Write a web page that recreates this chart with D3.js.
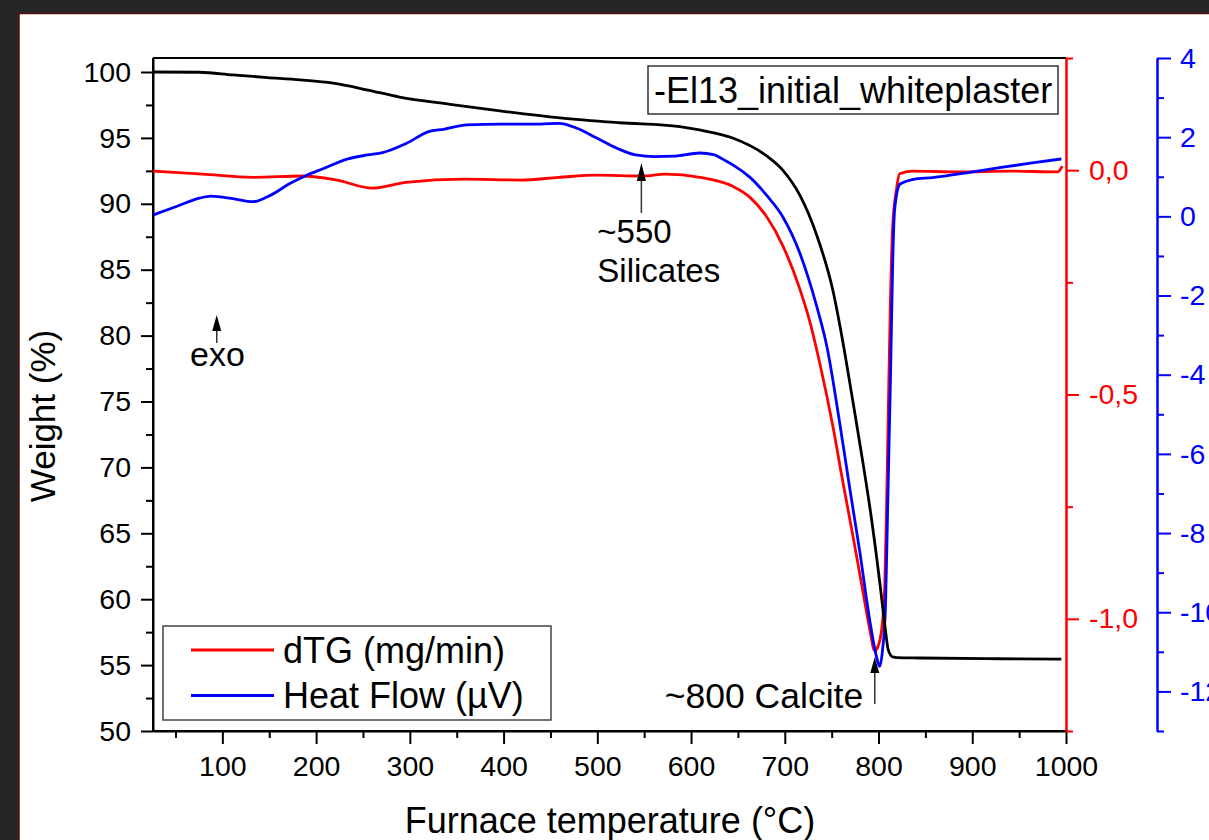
<!DOCTYPE html>
<html><head><meta charset="utf-8">
<script src="https://cdn.jsdelivr.net/npm/d3@7"></script>
<style>
html,body{margin:0;padding:0;background:#252525;}
svg{display:block;}
</style></head><body>
<svg id="chart" width="1209" height="840"></svg>
<script>
// ---------------- data ----------------
const weightT = [26, 76, 111, 148, 183, 218, 254, 289, 343, 396, 460, 524, 588, 609, 644.5, 680.7, 697.8, 715.9, 734, 751.4, 761, 772.4, 783, 792.3, 801.8, 807.2, 810.4, 815, 820, 844, 929, 995];
const weightV = [100.0, 99.98, 99.78, 99.58, 99.4, 99.15, 98.65, 98.1, 97.55, 97.05, 96.52, 96.15, 95.85, 95.6, 94.99, 93.63, 92.56, 90.67, 87.63, 83.4, 79.9, 75.11, 70.52, 66.2, 61.0, 57.74, 56.15, 55.62, 55.57, 55.54, 55.48, 55.45];

const dtgT = [26, 79, 133, 186, 222, 260, 296, 358, 418, 459, 499, 548, 573, 609.3, 644.5, 662.6, 680.7, 697.8, 715.9, 726.5, 737.5, 751.4, 761, 772.4, 783, 790.6, 795.9, 799.1, 803.4, 806.6, 808.5, 810.5, 812.5, 815, 819, 822.5, 836, 886, 940, 991, 996];
const dtgV = [-0.002, -0.009, -0.016, -0.013, -0.022, -0.040, -0.027, -0.020, -0.022, -0.016, -0.011, -0.013, -0.009, -0.016, -0.036, -0.060, -0.104, -0.168, -0.264, -0.336, -0.432, -0.572, -0.684, -0.812, -0.935, -1.023, -1.071, -1.063, -1.023, -0.93, -0.76, -0.53, -0.31, -0.13, -0.045, -0.008, -0.002, -0.004, -0.002, -0.004, 0.009];

const heatT = [26.6, 51, 75.6, 87.8, 112.4, 132.6, 148.6, 173, 190, 206, 235, 255, 271, 296, 320, 336, 361, 398, 439, 459, 479, 500, 521, 541, 561, 581.6, 609.3, 624, 637.8, 644.5, 662.6, 680.7, 697.8, 715.9, 734, 745, 758.8, 769.5, 780.2, 790.6, 798.1, 801.2, 804.2, 807.5, 809.6, 812.9, 815.1, 817.2, 822.5, 825.7, 836, 857.7, 894, 929, 964, 995];
const heatV = [0.04, 0.25, 0.46, 0.51, 0.44, 0.37, 0.50, 0.84, 1.04, 1.19, 1.46, 1.55, 1.61, 1.84, 2.14, 2.20, 2.31, 2.33, 2.33, 2.35, 2.22, 1.97, 1.72, 1.55, 1.51, 1.52, 1.6, 1.56, 1.39, 1.30, 0.99, 0.53, -0.01, -0.92, -2.27, -3.3, -5.25, -6.9, -8.5, -10.2, -11.15, -11.37, -10.97, -9.79, -7.53, -3.90, -1.19, 0.17, 0.805, 0.85, 0.93, 0.98, 1.10, 1.23, 1.35, 1.45];

const xTicks = [100, 200, 300, 400, 500, 600, 700, 800, 900, 1000];
const xMinor = [50, 150, 250, 350, 450, 550, 650, 750, 850, 950];
const wTicks = [50, 55, 60, 65, 70, 75, 80, 85, 90, 95, 100];
const wMinor = [52.5, 57.5, 62.5, 67.5, 72.5, 77.5, 82.5, 87.5, 92.5, 97.5];
const rTicks = [0, -0.5, -1.0];
const rMinor = [0.25, -0.25, -0.75, -1.25];
const bTicks = [-12, -10, -8, -6, -4, -2, 0, 2, 4];
const bMinor = [-13, -11, -9, -7, -5, -3, -1, 1, 3];

const legendLabels = ["dTG (mg/min)", "Heat Flow (\u00B5V)"];
const titleLabel = "-El13_initial_whiteplaster";

// ---------------- layout ----------------
const L = 153, R = 1066, T = 58, B = 731;
const FONT = "'Liberation Sans', Arial, sans-serif";

const x = d3.scaleLinear().domain([26, 1000]).range([L, R]);
const yW = d3.scaleLinear().domain([50, 101.062]).range([B, T]);
const yR = d3.scaleLinear().domain([-1.25, 0.25]).range([B, T]);
const yB = d3.scaleLinear().domain([-13, 4]).range([B, T]);

const svg = d3.select("#chart");
svg.append("rect").attr("width", 1209).attr("height", 840).attr("fill", "#252525");
svg.append("rect").attr("x", 19).attr("y", 13.5).attr("width", 1200).attr("height", 840)
  .attr("fill", "#ffffff").attr("stroke", "#5e0c0c").attr("stroke-width", 1.5);

function styleAxis(g, color, size) {
  g.attr("font-family", FONT).attr("font-size", size).attr("color", color);
  g.selectAll("line").attr("stroke-width", 2);
  g.selectAll("path.domain").attr("stroke-width", 2);
}

// left weight axis
const gL = svg.append("g").attr("transform", `translate(${L},0)`)
  .call(d3.axisLeft(yW).tickValues(wTicks).tickSize(12).tickSizeOuter(0).tickPadding(10).tickFormat(d3.format("d")));
styleAxis(gL, "#000", 28.5);
const gLm = svg.append("g").attr("transform", `translate(${L},0)`)
  .call(d3.axisLeft(yW).tickValues(wMinor).tickSize(7).tickFormat(""));
gLm.select(".domain").remove(); styleAxis(gLm, "#000", 28);
svg.append("line").attr("x1", L).attr("x2", L).attr("y1", T).attr("y2", B).attr("stroke", "#000").attr("stroke-width", 2);

// bottom axis
const gB = svg.append("g").attr("transform", `translate(0,${B})`)
  .call(d3.axisBottom(x).tickValues(xTicks).tickSize(13).tickSizeOuter(0).tickPadding(12).tickFormat(d3.format("d")));
styleAxis(gB, "#000", 28.5);
const gBm = svg.append("g").attr("transform", `translate(0,${B})`)
  .call(d3.axisBottom(x).tickValues(xMinor).tickSize(7).tickFormat(""));
gBm.select(".domain").remove(); styleAxis(gBm, "#000", 28);
svg.append("line").attr("x1", L).attr("x2", R).attr("y1", B).attr("y2", B).attr("stroke", "#000").attr("stroke-width", 2);

// top frame
svg.append("line").attr("x1", L).attr("x2", R).attr("y1", T).attr("y2", T).attr("stroke", "#000").attr("stroke-width", 2);

// red dTG axis
const fmtR = d => d3.format(".1f")(d).replace(".", ",").replace("\u2212", "-");
const gR = svg.append("g").attr("transform", `translate(${R},0)`)
  .call(d3.axisRight(yR).tickValues(rTicks).tickSize(13).tickSizeOuter(0).tickPadding(10).tickFormat(fmtR));
styleAxis(gR, "#ff0000", 28.5);
const gRm = svg.append("g").attr("transform", `translate(${R},0)`)
  .call(d3.axisRight(yR).tickValues(rMinor).tickSize(7).tickFormat(""));
gRm.select(".domain").remove(); styleAxis(gRm, "#ff0000", 28);
gR.select(".domain").attr("stroke-width", 2.5);

// blue heat-flow axis
const BX = 1157;
const fmtB = d => String(d);
const gBl = svg.append("g").attr("transform", `translate(${BX},0)`)
  .call(d3.axisRight(yB).tickValues(bTicks).tickSize(14).tickSizeOuter(0).tickPadding(9).tickFormat(fmtB));
styleAxis(gBl, "#0000ff", 28.5);
const gBlm = svg.append("g").attr("transform", `translate(${BX},0)`)
  .call(d3.axisRight(yB).tickValues(bMinor).tickSize(7).tickFormat(""));
gBlm.select(".domain").remove(); styleAxis(gBlm, "#0000ff", 28);
gBl.select(".domain").attr("stroke-width", 2.5);

// ---------------- series ----------------
const mkLine = (ys) => d3.line().x(d => x(d[0])).y(d => ys(d[1])).curve(d3.curveMonotoneX);
const zip = (a, b) => a.map((v, i) => [v, b[i]]);

svg.append("path").datum(zip(dtgT, dtgV)).attr("d", mkLine(yR))
  .attr("fill", "none").attr("stroke", "#ff0000").attr("stroke-width", 2.8).attr("stroke-linejoin", "round");
svg.append("path").datum(zip(heatT, heatV)).attr("d", mkLine(yB))
  .attr("fill", "none").attr("stroke", "#0000ff").attr("stroke-width", 2.8).attr("stroke-linejoin", "round");
svg.append("path").datum(zip(weightT, weightV)).attr("d", mkLine(yW))
  .attr("fill", "none").attr("stroke", "#000000").attr("stroke-width", 2.8).attr("stroke-linejoin", "round");

// ---------------- title box ----------------
svg.append("rect").attr("x", 648).attr("y", 66).attr("width", 410).attr("height", 48)
  .attr("fill", "#fff").attr("stroke", "#333").attr("stroke-width", 1.5);
svg.append("text").attr("x", 654).attr("y", 103).attr("font-family", FONT).attr("font-size", 36)
  .attr("fill", "#000").text(titleLabel);

// ---------------- legend ----------------
svg.append("rect").attr("x", 163).attr("y", 626).attr("width", 388).attr("height", 94)
  .attr("fill", "#fff").attr("stroke", "#444").attr("stroke-width", 1.5);
const legColors = ["#ff0000", "#0000ff"];
legendLabels.forEach((lab, i) => {
  const yy = 650 + i * 45.5;
  svg.append("line").attr("x1", 191).attr("x2", 274).attr("y1", yy).attr("y2", yy)
    .attr("stroke", legColors[i]).attr("stroke-width", 3);
  svg.append("text").attr("x", 283).attr("y", yy + 12.5).attr("font-family", FONT).attr("font-size", 36)
    .attr("fill", "#000").text(lab);
});

// ---------------- axis titles ----------------
svg.append("text").attr("x", 610).attr("y", 833).attr("text-anchor", "middle")
  .attr("font-family", FONT).attr("font-size", 36).attr("fill", "#000").text("Furnace temperature (\u00B0C)");
svg.append("text").attr("transform", "translate(55,416) rotate(-90)").attr("text-anchor", "middle")
  .attr("font-family", FONT).attr("font-size", 35).attr("fill", "#000").text("Weight (%)");

// ---------------- annotations ----------------
function arrow(t, tipW, baseW, endW) {
  const ax = x(t), tip = yW(tipW), base = yW(baseW), end = yW(endW);
  svg.append("line").attr("x1", ax).attr("x2", ax).attr("y1", base).attr("y2", end)
    .attr("stroke", "#333").attr("stroke-width", 1.5);
  svg.append("path").attr("d", `M${ax},${tip} L${ax - 4.5},${base} L${ax + 4.5},${base} Z`).attr("fill", "#000");
}
arrow(547, 93.1, 91.73, 89.3);
arrow(94, 81.56, 80.35, 79.44);
arrow(796, 55.61, 54.4, 52.05);

function note(t, w, str, size) {
  svg.append("text").attr("x", x(t)).attr("y", yW(w)).attr("font-family", FONT)
    .attr("font-size", size).attr("fill", "#000").text(str);
}
note(500, 87.03, "~550", 33);
note(500, 84.07, "Silicates", 33);
note(65.5, 77.69, "exo", 34);
note(572, 51.75, "~800 Calcite", 35.5);
</script>
</body></html>
